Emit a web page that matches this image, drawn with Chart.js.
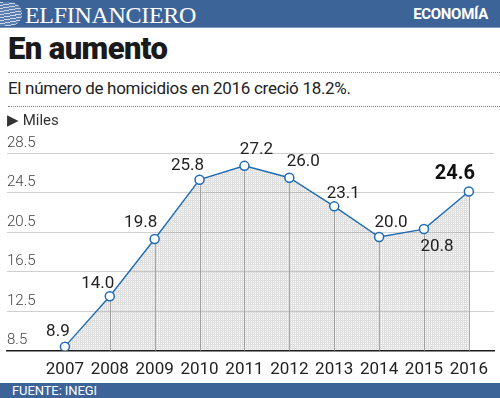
<!DOCTYPE html>
<html>
<head>
<meta charset="utf-8">
<script src="https://cdn.jsdelivr.net/npm/chart.js@4"></script>
<style>
  body { margin: 0; width: 500px; height: 398px; background: #fff; position: relative; overflow: hidden; font-family: Roboto, "Noto Sans", sans-serif; color: #222; }
  .abs { position: absolute; }
  #header { left: 0; top: 0; width: 500px; height: 28px; background: #3d6499; border-bottom: 1px solid #7f9cc4; box-sizing: border-box; }
  #globe { left: 0; top: 2px; width: 22px; height: 24px; border-radius: 0 12px 12px 0;
    background: repeating-linear-gradient(170deg, #c9d6e8 0 1px, #5a7eb0 1px 3px); }
  #logo { left: 25px; top: 1px; font-family: "Liberation Serif", "DejaVu Serif", serif; font-size: 24px; color: #fff; letter-spacing: -0.3px; line-height: 28px; }
  #section { right: 12px; top: 0; line-height: 28px; font-size: 15px; font-weight: bold; color: #fff; letter-spacing: -0.3px; }
  #title { left: 8px; top: 30px; font-size: 31px; font-weight: 900; letter-spacing: -0.6px; line-height: 38px; color: #1a1a1a; }
  .dots { left: 8px; width: 492px; height: 0; border-top: 1px dotted #888; }
  #sub { left: 8px; top: 76px; font-size: 17px; line-height: 24px; letter-spacing: -0.3px; color: #222; }
  #unit { left: 7px; top: 110px; font-size: 15px; line-height: 20px; color: #333; }
  #wrap { left: 0; top: 110px; width: 500px; height: 283px; }
  #footer { left: 0; top: 383px; width: 500px; height: 15px; background: #3d6499; }
  #footer span { position: absolute; left: 12px; top: 0; line-height: 15px; font-size: 13px; color: #fff; letter-spacing: -0.1px; }
</style>
</head>
<body>
<div id="header" class="abs">
  <div id="globe" class="abs"></div>
  <div id="logo" class="abs">ELFINANCIERO</div>
  <div id="section" class="abs">ECONOMÍA</div>
</div>
<div id="title" class="abs">En aumento</div>
<div class="abs dots" style="top:72px"></div>
<div id="sub" class="abs">El número de homicidios en 2016 creció 18.2%.</div>
<div class="abs dots" style="top:106px"></div>
<div id="wrap" class="abs"><canvas id="chart"></canvas></div>
<div id="unit" class="abs">&#9654; Miles</div>
<div id="footer" class="abs"><span>FUENTE: INEGI</span></div>

<script>
// Homicidios en México (miles)
var years = [2007, 2008, 2009, 2010, 2011, 2012, 2013, 2014, 2015, 2016];
var homicides = [8.9, 14.0, 19.8, 25.8, 27.2, 26.0, 23.1, 20.0, 20.8, 24.6];
var yTicks = [8.5, 12.5, 16.5, 20.5, 24.5, 28.5];

// where each value label sits relative to its point (px)
var labelOffsets = [[-7, -15], [-12, -13], [-14, -16], [-12, -14], [12, -16],
                    [14, -16], [9, -13], [12, -14], [13, 18], [-14, -18]];

var blue = '#1f6cb4';

// fine grey grid used as the area fill
function gridPattern() {
    var c = document.createElement('canvas');
    c.width = 2; c.height = 2;
    var g = c.getContext('2d');
    g.fillStyle = 'rgba(140,140,140,0.28)';
    g.fillRect(0, 0, 2, 1);
    g.fillRect(0, 1, 1, 1);
    return g.createPattern(c, 'repeat');
}

// darker year lines under the curve
var yearLines = {
    id: 'yearLines',
    beforeDatasetsDraw: function (chart) {
        var ctx = chart.ctx, xs = chart.scales.x, ys = chart.scales.y;
        ctx.save();
        ctx.strokeStyle = '#a9a9a9';
        ctx.lineWidth = 1;
        years.forEach(function (yr, i) {
            var x = Math.round(xs.getPixelForValue(yr)) + 0.5;
            ctx.beginPath();
            ctx.moveTo(x, ys.getPixelForValue(homicides[i]));
            ctx.lineTo(x, ys.bottom);
            ctx.stroke();
        });
        ctx.restore();
    }
};

// value labels next to the points
var valueLabels = {
    id: 'valueLabels',
    afterDatasetsDraw: function (chart) {
        var ctx = chart.ctx;
        var pts = chart.getDatasetMeta(0).data;
        ctx.save();
        ctx.textAlign = 'center';
        ctx.textBaseline = 'middle';
        pts.forEach(function (p, i) {
            var last = i === pts.length - 1;
            ctx.font = last ? 'bold 20px Roboto' : '17px Roboto';
            ctx.fillStyle = last ? '#111' : '#222';
            ctx.fillText(homicides[i].toFixed(1), p.x + labelOffsets[i][0], p.y + labelOffsets[i][1]);
        });
        ctx.restore();
    }
};

var ctx = document.getElementById('chart').getContext('2d');
new Chart(ctx, {
    type: 'line',
    data: {
        datasets: [{
            data: years.map(function (yr, i) { return { x: yr, y: homicides[i] }; }),
            borderColor: blue,
            borderWidth: 1.4,
            backgroundColor: gridPattern(),
            fill: 'start',
            tension: 0,
            pointRadius: 4.5,
            pointBorderWidth: 1.5,
            pointBackgroundColor: '#fff',
            pointBorderColor: blue
        }]
    },
    options: {
        responsive: true,
        maintainAspectRatio: false,
        animation: false,
        layout: { padding: { top: 43, left: 7, right: 5, bottom: 4 } },
        plugins: { legend: { display: false }, tooltip: { enabled: false } },
        scales: {
            x: {
                type: 'linear',
                min: 2005.71,
                max: 2016.56,
                afterBuildTicks: function (axis) {
                    axis.ticks = years.map(function (v) { return { value: v }; });
                },
                grid: { display: false, drawTicks: false },
                border: { color: '#1a1a1a', width: 1.5 },
                ticks: {
                    padding: 9,
                    color: '#222',
                    font: { family: 'Roboto', size: 17 },
                    maxRotation: 0,
                    autoSkip: false,
                    callback: function (v) { return String(v); }
                }
            },
            y: {
                min: 8.5,
                max: 28.5,
                afterBuildTicks: function (axis) {
                    axis.ticks = yTicks.map(function (v) { return { value: v }; });
                },
                grid: { color: '#d0d0d0', lineWidth: 1, drawTicks: false },
                border: { display: false },
                ticks: {
                    mirror: true,
                    padding: 0,
                    labelOffset: -10,
                    color: '#444',
                    font: { family: 'Roboto', size: 15, weight: '300' },
                    callback: function (v) { return v.toFixed(1); }
                }
            }
        }
    },
    plugins: [yearLines, valueLabels]
});
</script>
</body>
</html>
